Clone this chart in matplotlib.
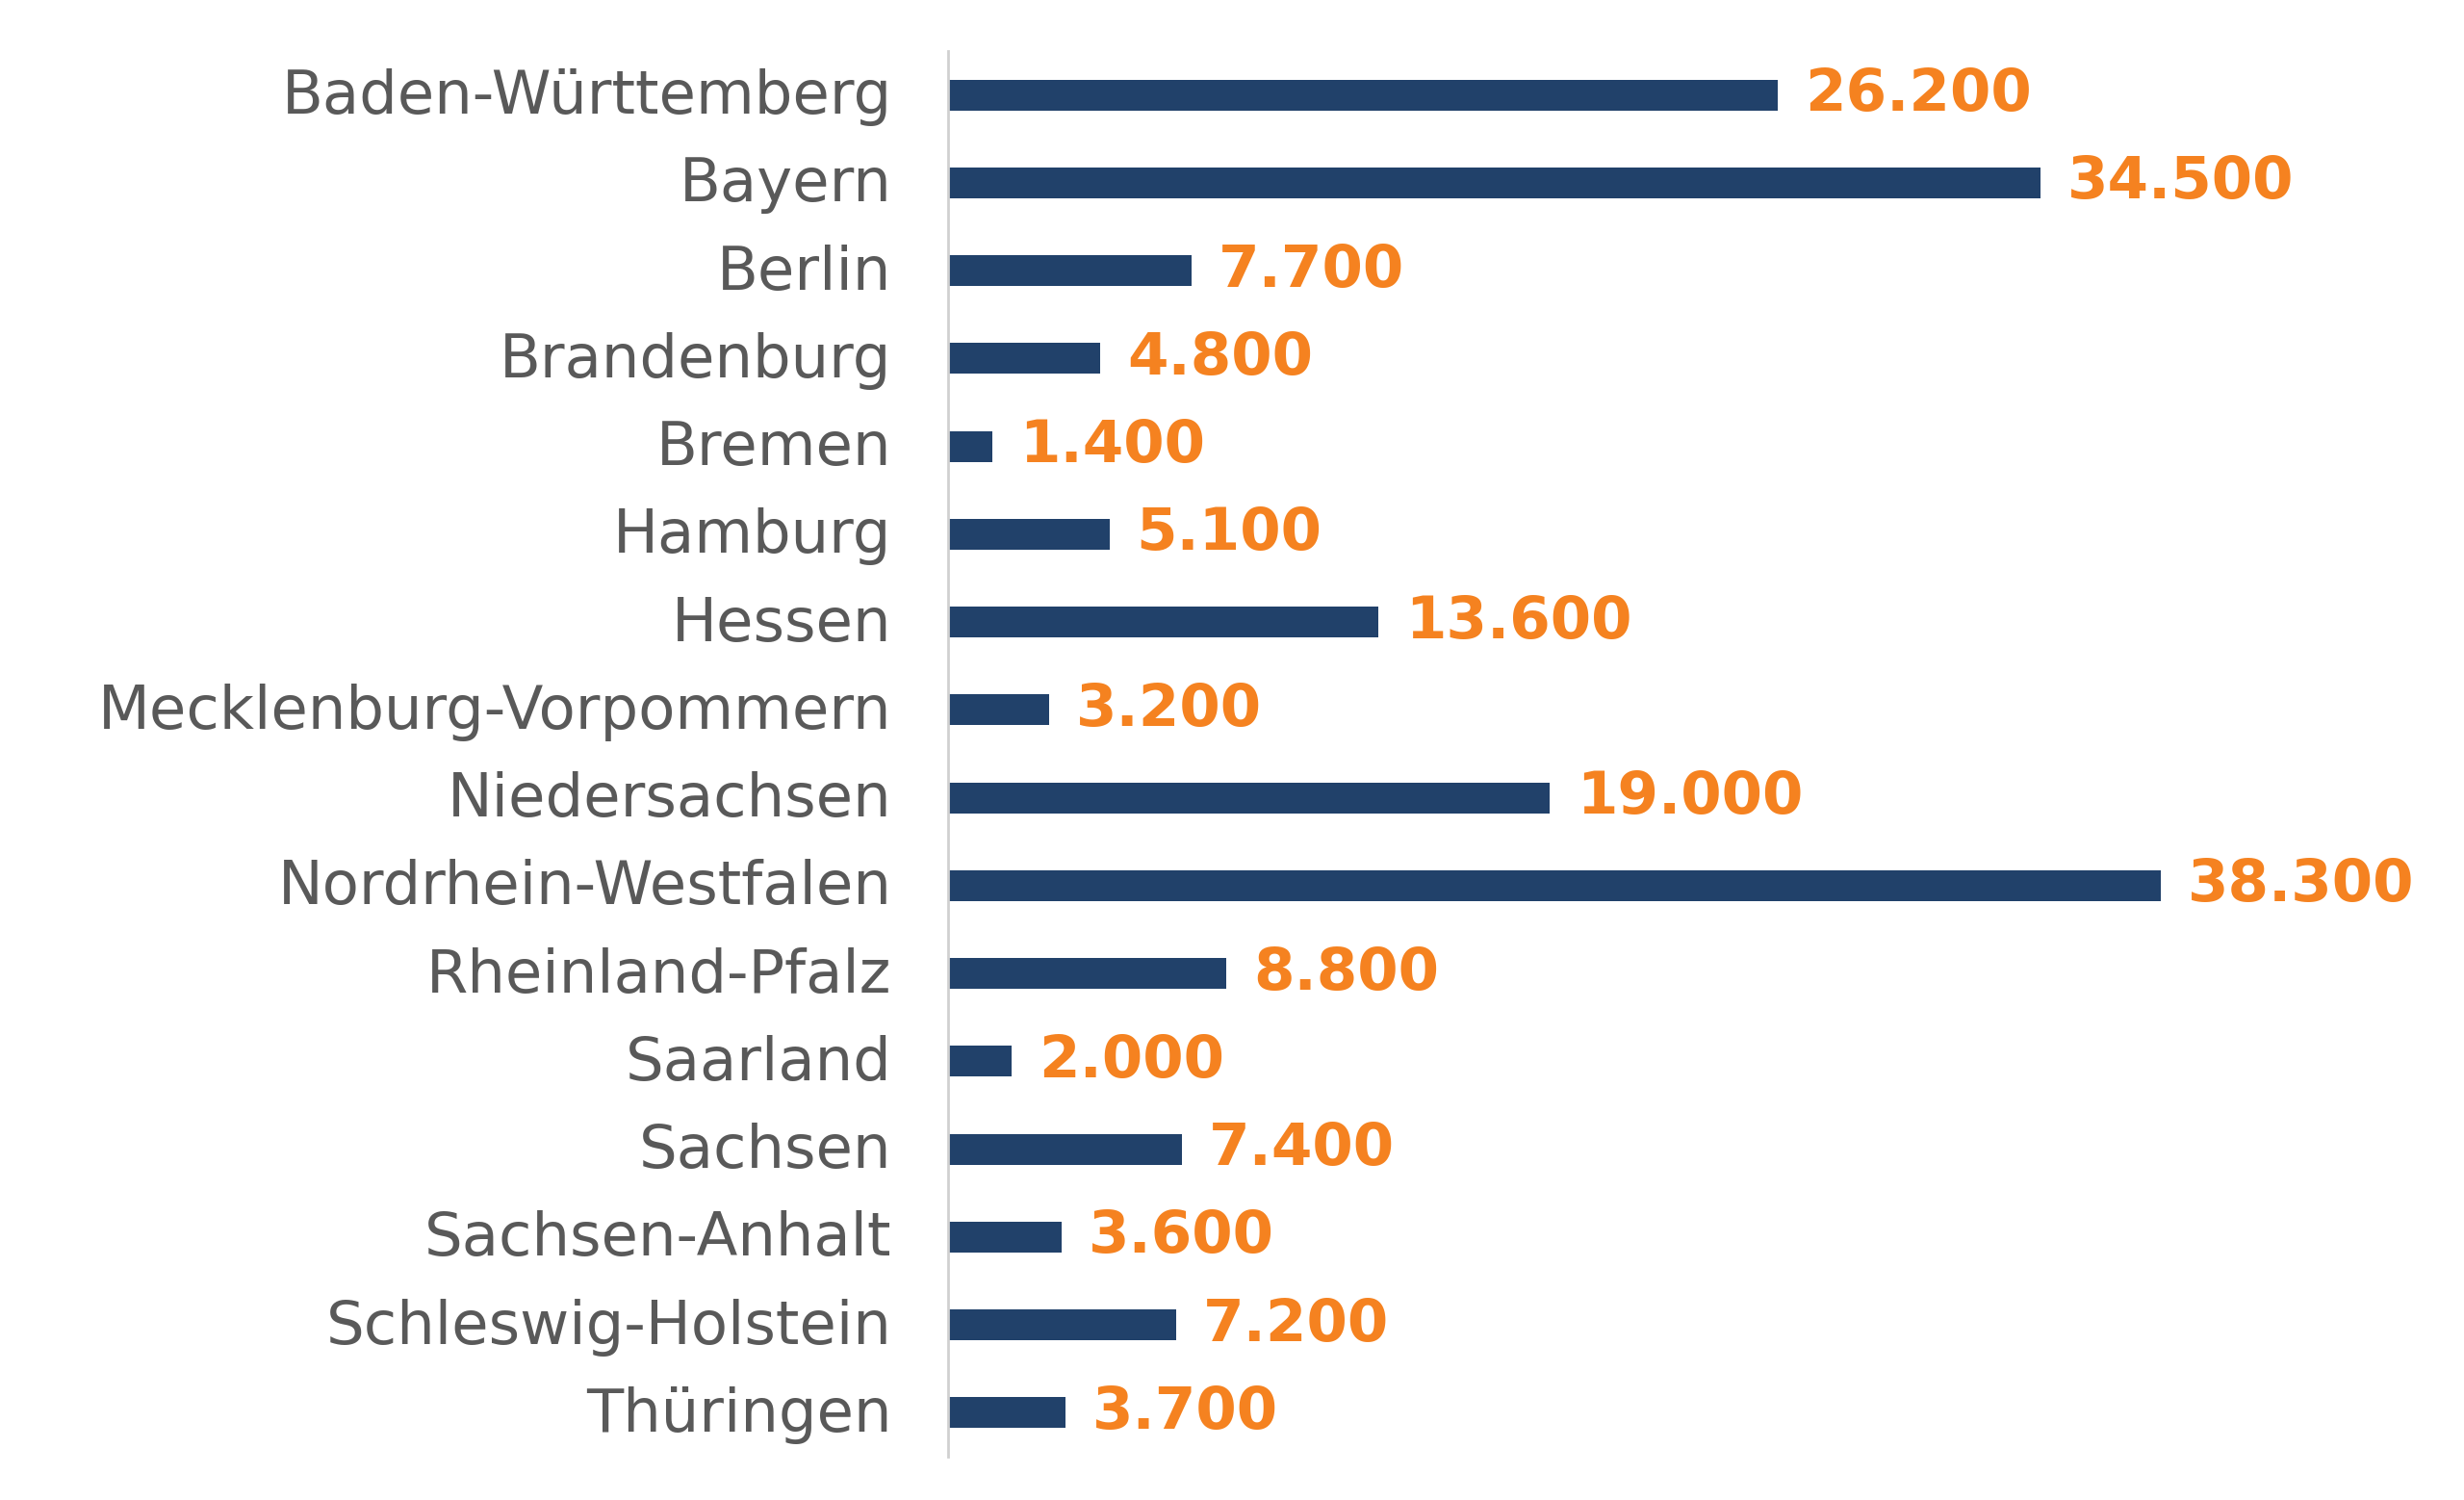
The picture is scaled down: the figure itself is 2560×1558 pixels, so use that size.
import numpy as np
import matplotlib
matplotlib.use("Agg")
import matplotlib.pyplot as plt
import matplotlib.transforms as mtransforms

states = ["Baden-Württemberg", "Bayern", "Berlin", "Brandenburg", "Bremen",
          "Hamburg", "Hessen", "Mecklenburg-Vorpommern", "Niedersachsen",
          "Nordrhein-Westfalen", "Rheinland-Pfalz", "Saarland", "Sachsen",
          "Sachsen-Anhalt", "Schleswig-Holstein", "Thüringen"]
values = [26200, 34500, 7700, 4800, 1400, 5100, 13600, 3200, 19000,
          38300, 8800, 2000, 7400, 3600, 7200, 3700]

bar_color = "#21416a"
label_color = "#f58220"
text_color = "#595959"

fig = plt.figure(figsize=(25.6, 15.58), dpi=100)
ax = fig.add_axes([985 / 2560, 45 / 1558, 1513 / 2560, 1460 / 1558])

y = np.arange(len(states))
ax.barh(y, values, height=0.35, color=bar_color)

for yi, v in zip(y, values):
    ax.text(v + 850, yi, f"{v:,.0f}".replace(",", "."), va="center", ha="left",
            color=label_color, fontsize=44, fontweight="bold")

ax.set_yticks(y)
ax.set_yticklabels(states, fontsize=45, color=text_color)
ax.tick_params(axis="y", length=0, pad=42)
# nudge the state names up a little
shift = mtransforms.ScaledTranslation(0, 4 / 100, fig.dpi_scale_trans)
for lab in ax.get_yticklabels():
    lab.set_transform(lab.get_transform() + shift)
ax.set_ylim(len(states) - 0.5, -0.5)
ax.set_xlim(0, 46000)
ax.set_xticks([])

for side in ["top", "right", "bottom"]:
    ax.spines[side].set_visible(False)
ax.spines["left"].set_color("#d0d0d0")
ax.spines["left"].set_linewidth(2)

fig.savefig("out.png", dpi=100, facecolor="white")
